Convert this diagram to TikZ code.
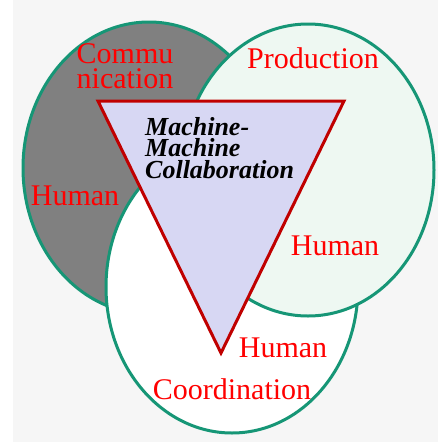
\documentclass[tikz,border=0pt]{standalone}
\usepackage{fontspec}
\setmainfont{Liberation Serif}
\usepackage{tikz}
\usetikzlibrary{shapes.geometric,positioning}

\definecolor{vennGreen}{RGB}{22,150,118}
\definecolor{prodMint}{RGB}{238,248,242}
\definecolor{triRed}{RGB}{192,0,0}
\definecolor{triFill}{RGB}{215,215,243}
\definecolor{bgGray}{RGB}{246,246,246}

\begin{document}
\begin{tikzpicture}[x=1pt,y=-1pt,node distance=1pt, auto,
  venn/.style={ellipse,draw=vennGreen,line width=3pt,minimum width=252pt,minimum height=292pt,inner sep=0pt},
  lbl/.style={draw=none,fill=none,inner sep=0pt,text=red,font=\fontsize{30}{25}\selectfont}]

\useasboundingbox (0,0) rectangle (438,442);
\fill[white] (0,0) rectangle (438,442);
\fill[bgGray] (13,0) rectangle (438,442);

%three overlapping ellipses
\node[venn,fill=gray] (comm) at (149,168) {};
\node[venn,fill=white] (coord) at (232,287) {};
\node[venn,fill=prodMint] (prod) at (308,170) {};

%triangle on top
\coordinate (tl) at (98,101);
\coordinate (tr) at (344,101);
\coordinate (tb) at (221,353);
\draw[draw=triRed,fill=triFill,line width=3pt] (tl) -- (tr) -- (tb) -- cycle;

%label ellipses
\node[lbl,align=center,anchor=north] (commtext) at (125,43) {Commu\\nication};
\node[lbl,anchor=base] (prodtext) at (313,68) {Production};
\node[lbl,above=35pt of coord.south] (coordtext) {Coordination};
\node[lbl,anchor=base] (humanL) at (75,205) {Human};
\node[lbl,anchor=base] (humanR) at (335,255) {Human};
\node[lbl,anchor=base] (humanB) at (283,357) {Human};

%label triangle
\node[draw=none,fill=none,inner sep=0pt,align=left,anchor=north west,font=\fontsize{26}{21.5}\selectfont\bfseries\itshape] (mmc) at (145,117) {Machine-\\Machine\\Collaboration};

\end{tikzpicture}
\end{document}
